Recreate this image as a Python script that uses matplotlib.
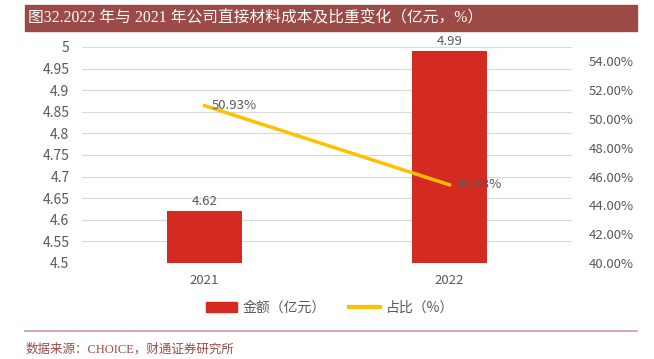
import matplotlib

matplotlib.use("Agg")
import matplotlib.pyplot as plt
from matplotlib.lines import Line2D
from matplotlib.patches import Patch, Rectangle
from matplotlib.ticker import FuncFormatter

plt.rcParams["font.family"] = ["Noto Sans CJK SC", "DejaVu Sans"]

years = ["2021", "2022"]
amounts = [4.62, 4.99]
shares = [50.93, 45.43]
left_ticks = [4.5, 4.55, 4.6, 4.65, 4.7, 4.75, 4.8, 4.85, 4.9, 4.95, 5]
right_ticks = [40, 42, 44, 46, 48, 50, 52, 54]

title = "图32.2022 年与 2021 年公司直接材料成本及比重变化（亿元，%）"
source = "数据来源：CHOICE，财通证券研究所"

BAR_COLOR = "#D42A22"
LINE_COLOR = "#FFC000"
TEXT_COLOR = "#595959"
GRID_COLOR = "#D9D9D9"
SERIF = ["Liberation Serif", "Noto Sans CJK SC"]

fig = plt.figure(figsize=(6.54, 3.59), dpi=100)
W, H = 654, 359

# title bar
fig.patches.append(Rectangle((25 / W, 1 - 31 / H), 612 / W, 26 / H,
                             transform=fig.transFigure, color="#9B4A46", zorder=0))
fig.text(28 / W, 1 - 18 / H, title, color="white", fontsize=11.3, va="center",
         ha="left", family=SERIF)

ax = fig.add_axes([82 / W, 1 - 263 / H, 490 / W, 216 / H])
ax2 = ax.twinx()

x = list(range(len(years)))
ax.bar(x, amounts, width=0.31, color=BAR_COLOR, zorder=3)
ax.set_ylim(4.5, 5.0)
ax.set_xlim(-0.5, 1.5)
ax.set_yticks(left_ticks)
ax.yaxis.set_major_formatter(FuncFormatter(lambda v, p: f"{v:g}"))
ax.set_xticks(x)
ax.set_xticklabels(years)
ax.grid(axis="y", color=GRID_COLOR, linewidth=0.8, zorder=0)
for value, xi in zip(amounts, x):
    ax.text(xi, value + 0.008, f"{value:.2f}", ha="center", va="bottom",
            color=TEXT_COLOR, fontsize=9.5)

ax2.plot(x, shares, color=LINE_COLOR, linewidth=2.5, zorder=4)
ax2.set_ylim(40, 55)
ax2.set_yticks(right_ticks)
ax2.yaxis.set_major_formatter(FuncFormatter(lambda v, p: f"{v:.2f}%"))
for value, xi in zip(shares, x):
    ax2.text(xi + 0.03, value, f"{value:.2f}%", ha="left", va="center",
             color=TEXT_COLOR, fontsize=9.5, zorder=5)

for a in (ax, ax2):
    for spine in a.spines.values():
        spine.set_visible(False)
    a.tick_params(length=0, colors=TEXT_COLOR, labelsize=9.5)
ax.tick_params(axis="y", pad=9, labelsize=10)
ax2.tick_params(axis="y", pad=12)
ax.tick_params(axis="x", pad=8)

handles = [Patch(color=BAR_COLOR), Line2D([0], [0], color=LINE_COLOR, linewidth=3)]
fig.legend(handles, ["金额（亿元）", "占比（%）"], loc="center",
           bbox_to_anchor=(330 / W, 1 - 308 / H), ncol=2, frameon=False,
           fontsize=10, labelcolor=TEXT_COLOR, handlelength=2.2,
           columnspacing=1.7, handletextpad=0.4)

fig.add_artist(Line2D([25 / W, 637 / W], [1 - 331 / H, 1 - 331 / H],
                      transform=fig.transFigure, color="#C99A98", linewidth=1.2))
fig.text(26 / W, 1 - 349 / H, source, color="#9B4A46", fontsize=9,
         va="center", family=SERIF)

fig.savefig("out.png", dpi=100)
